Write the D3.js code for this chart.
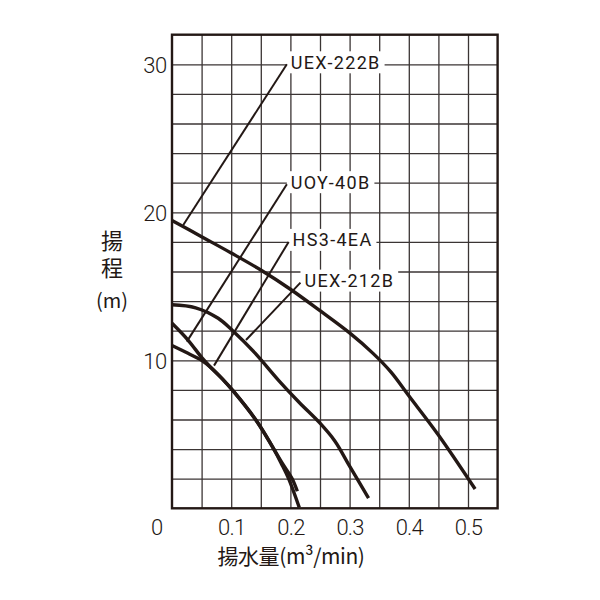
<!DOCTYPE html>
<html>
    <head>
        <script src="https://d3js.org/d3.v7.min.js"></script>
        <style>
            body { margin: 0; background: #fff; }
        </style>
    </head>
    <body>
        <div id="chart"></div>
        <script>
            // pump curves: flow (m3/min) vs head (m)
            const uex222b = [[0, 19.45], [0.05, 18.35], [0.1, 17.25], [0.15, 16.1], [0.2, 14.8], [0.25, 13.35],
                             [0.3, 11.85], [0.34, 10.45], [0.37, 9.2], [0.4, 7.6], [0.45, 4.95], [0.512, 1.3]]
            const uex212b = [[0, 13.75], [0.04, 13.55], [0.078, 12.84], [0.103, 11.98], [0.14, 10.5], [0.18, 8.65],
                             [0.215, 7.15], [0.25, 5.75], [0.275, 4.55], [0.3, 2.85], [0.332, 0.68]]
            const uoy40b  = [[0, 12.5], [0.027, 11.37], [0.05, 10.2], [0.066, 9.5], [0.085, 8.75], [0.104, 7.9],
                             [0.142, 5.95], [0.172, 4.0], [0.185, 3.0], [0.197, 2.0], [0.215, 0.05]]
            const hs34ea  = [[0, 11.0], [0.027, 10.47], [0.05, 10.0], [0.066, 9.5], [0.085, 8.75], [0.104, 7.9],
                             [0.142, 5.95], [0.172, 4.0], [0.187, 3.0], [0.203, 2.0], [0.2117, 1.15]]

            const seriesNames = ["UEX-222B", "UOY-40B", "HS3-4EA", "UEX-212B"]
            const seriesData = [uex222b, uoy40b, hs34ea, uex212b]

            // leader line: [label corner], [point on curve]
            const leaderTops = [[0.194, 30.0], [0.194, 21.9], [0.197, 18.0], [0.217, 15.25]]
            const leaderTips = [[0.019, 19.14], [0.025, 11.26], [0.071, 9.64], [0.125, 11.37]]

            const xTicks = [0.1, 0.2, 0.3, 0.4, 0.5]
            const yTicks = [10, 20, 30]
            const xGridStep = 0.05, yGridStep = 2

            const width = 600, height = 600
            const margin = ({top: 34.7, right: 102.4, bottom: 91.7, left: 172})
            const ink = "#231815"

            const x = d3.scaleLinear([0, 0.55], [margin.left, width - margin.right])
            const y = d3.scaleLinear([0, 32], [height - margin.bottom, margin.top])

            const svg = d3.select("#chart").append("svg")
                .attr("width", width).attr("height", height)
                .attr("viewBox", [0, 0, width, height])

            // grid
            const gx = d3.range(1, 11).map(i => i * xGridStep)
            const gy = d3.range(1, 16).map(i => i * yGridStep)
            svg.append("g")
                .attr("transform", `translate(0,${height - margin.bottom})`)
                .call(d3.axisBottom(x).tickValues(gx).tickSize(-(height - margin.top - margin.bottom)).tickFormat(""))
                .call(g => g.select(".domain").remove())
                .call(g => g.selectAll("line").attr("stroke", "#3b3534").attr("stroke-width", 1.3))
            svg.append("g")
                .attr("transform", `translate(${margin.left},0)`)
                .call(d3.axisLeft(y).tickValues(gy).tickSize(-(width - margin.left - margin.right)).tickFormat(""))
                .call(g => g.select(".domain").remove())
                .call(g => g.selectAll("line").attr("stroke", "#3b3534").attr("stroke-width", 1.3))

            svg.append("rect")
                .attr("x", x(0)).attr("y", y(32))
                .attr("width", x(0.55) - x(0)).attr("height", y(0) - y(32))
                .attr("fill", "none").attr("stroke", ink).attr("stroke-width", 2.4)

            // tick labels
            const tickFont = "Roboto, 'Liberation Sans', Arial, sans-serif"
            svg.append("g")
                .attr("transform", `translate(0,${height - margin.bottom})`)
                .call(d3.axisBottom(x).tickValues(xTicks).tickSize(0).tickPadding(20).tickFormat(d3.format(".1f")))
                .call(g => g.select(".domain").remove())
                .call(g => g.selectAll("text").attr("font-family", tickFont).attr("font-size", 22)
                    .attr("font-weight", 300).attr("letter-spacing", -0.8).attr("fill", ink).attr("dy", "0.3em"))
            svg.append("g")
                .attr("transform", `translate(${margin.left},0)`)
                .call(d3.axisLeft(y).tickValues(yTicks).tickSize(0).tickPadding(5))
                .call(g => g.select(".domain").remove())
                .call(g => g.selectAll("text").attr("font-family", tickFont).attr("font-size", 22)
                    .attr("font-weight", 300).attr("letter-spacing", -0.3).attr("fill", ink).attr("dy", "0.36em"))
            svg.append("text")
                .attr("x", x(0) - 15).attr("y", y(0) + 20)
                .attr("dy", "0.3em")
                .attr("text-anchor", "middle")
                .attr("font-family", tickFont).attr("font-size", 22).attr("font-weight", 300).attr("fill", ink)
                .text("0")

            // axis titles
            const jpFont = "'Noto Sans CJK JP', sans-serif"
            svg.append("text")
                .attr("x", 112).attr("y", 257)
                .attr("text-anchor", "middle")
                .style("writing-mode", "vertical-rl")
                .attr("letter-spacing", 5.5)
                .attr("font-family", jpFont).attr("font-size", 22).attr("fill", ink)
                .text("揚程")
            svg.append("text")
                .attr("x", 112).attr("y", 301)
                .attr("dy", "0.36em")
                .attr("text-anchor", "middle")
                .attr("font-family", jpFont).attr("font-size", 20).attr("fill", ink)
                .text("(m)")
            svg.append("text")
                .attr("x", 291).attr("y", 556)
                .attr("dy", "0.36em")
                .attr("text-anchor", "middle")
                .attr("font-family", jpFont).attr("font-size", 21).attr("fill", ink)
                .attr("letter-spacing", -0.4)
                .text("揚水量(m³/min)")

            // curves
            const line = d3.line()
                .x(d => x(d[0]))
                .y(d => y(d[1]))
                .curve(d3.curveCatmullRom.alpha(0.5))

            svg.append("g")
                .attr("fill", "none")
                .attr("stroke", ink)
                .attr("stroke-width", 3.4)
                .attr("stroke-linecap", "butt")
                .selectAll("path")
                .data(seriesData)
                .join("path")
                .attr("d", line)

            // labels with leaders
            const labels = svg.append("g")
            seriesNames.forEach((name, i) => {
                const [tx, ty] = leaderTops[i]
                const [px, py] = leaderTips[i]
                const lg = labels.append("g")
                const bg = lg.append("rect").attr("fill", "#fff")
                const txt = lg.append("text")
                    .attr("x", x(tx) + 4).attr("y", y(ty) - 2)
                    .attr("dy", "0.36em")
                    .attr("font-family", tickFont).attr("font-size", 18)
                    .attr("letter-spacing", 1.3)
                    .attr("fill", ink)
                    .text(name)
                const bb = txt.node().getBBox()
                bg.attr("x", x(tx)).attr("y", y(ty) - 13)
                    .attr("width", bb.width + 8).attr("height", 22)
                lg.append("line")
                    .attr("x1", x(tx)).attr("y1", y(ty))
                    .attr("x2", x(px)).attr("y2", y(py))
                    .attr("stroke", ink).attr("stroke-width", 2)
            })
        </script>
    </body>
</html>
